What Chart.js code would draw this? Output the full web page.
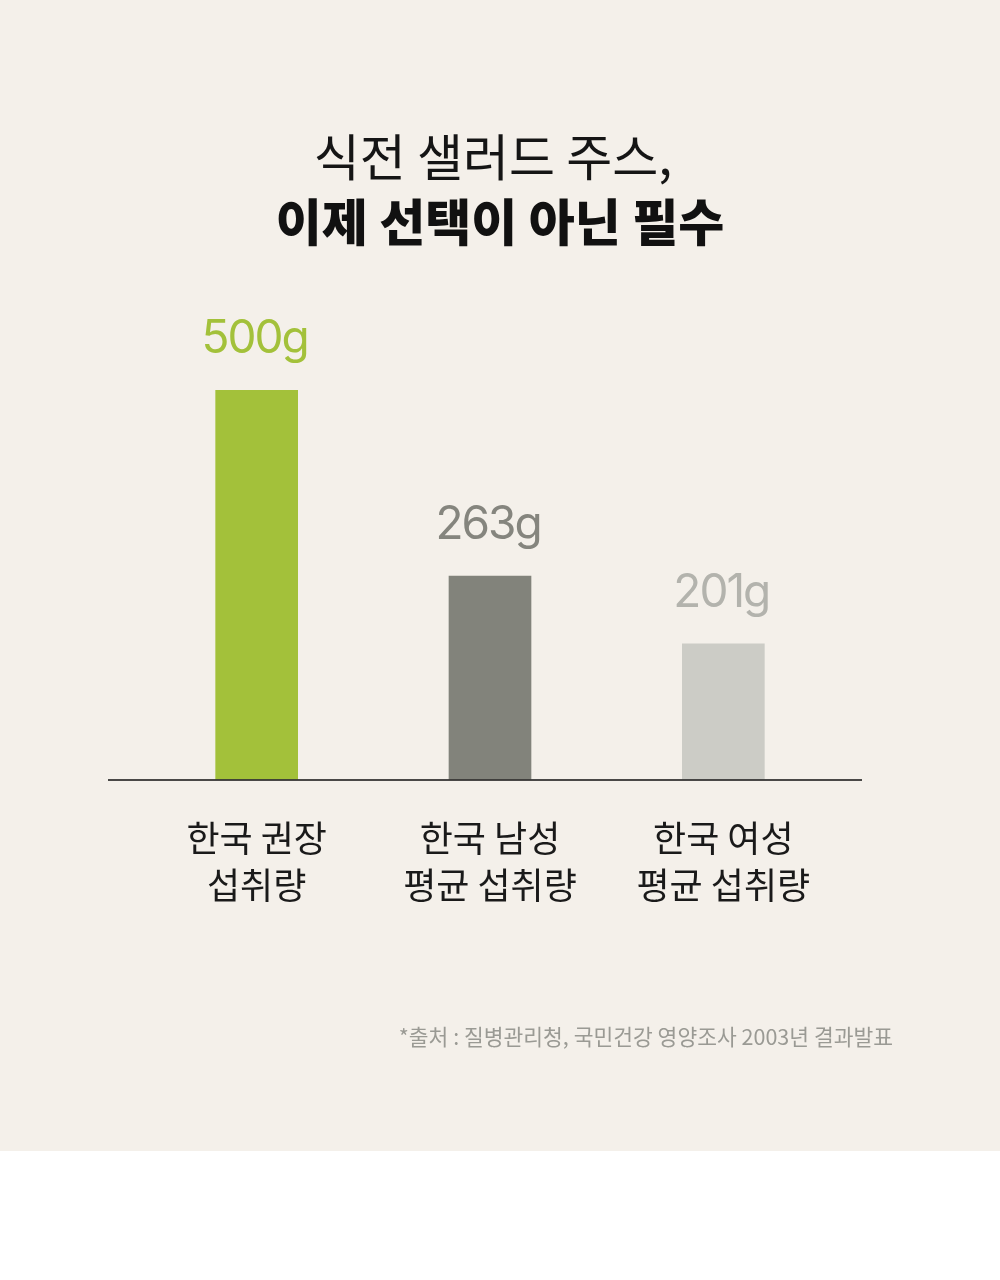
<!DOCTYPE html>
<html lang="ko">
<head>
<meta charset="utf-8">
<script src="https://cdn.jsdelivr.net/npm/chart.js@4"></script>
<style>
  html, body { margin: 0; padding: 0; background: #ffffff; }
  #wrap { width: 1000px; height: 1151px; background: #f4f0ea; position: relative; }
  #chart { display: block; }
</style>
</head>
<body>
<div id="wrap">
  <canvas id="chart" width="1000" height="1151"></canvas>
</div>
<script>
// categories (two-line tick labels)
const categories = [
    ['한국 권장', '섭취량'],
    ['한국 남성', '평균 섭취량'],
    ['한국 여성', '평균 섭취량']
];
// bar heights as drawn in the picture (the graphic is not to scale)
const barValues = [500, 261, 174];
// value labels printed above the bars
const valueLabels = ['500g', '263g', '201g'];
const barColors = ['#a3c13a', '#82837b', '#ccccc6'];
const labelColors = ['#a3c13a', '#85857e', '#b3b3ad'];

const titleText = '식전 샐러드 주스,';
const subtitleText = '이제 선택이 아닌 필수';
const sourceText = '*출처 : 질병관리청, 국민건강 영양조사 2003년 결과발표';

const FONT = 'Inter, "Noto Sans CJK KR", sans-serif';
const KFONT = '"Noto Sans CJK KR", sans-serif';

// value labels above bars
const valueLabelPlugin = {
    id: 'valueLabels',
    afterDatasetsDraw(chart) {
        const ctx = chart.ctx;
        const meta = chart.getDatasetMeta(0);
        ctx.save();
        ctx.font = '400 46px ' + FONT;
        ctx.letterSpacing = '-2px';
        ctx.textAlign = 'center';
        ctx.textBaseline = 'alphabetic';
        meta.data.forEach((bar, i) => {
            ctx.fillStyle = labelColors[i];
            ctx.fillText(valueLabels[i], bar.x - 2, bar.y - 37);
        });
        ctx.restore();
    }
};

// headline (centred on the page, not the plot), baseline and source note
const decorPlugin = {
    id: 'decor',
    afterDraw(chart) {
        const ctx = chart.ctx;
        const area = chart.chartArea;
        const cx = chart.width / 2;
        ctx.save();
        ctx.textAlign = 'center';
        ctx.textBaseline = 'middle';
        ctx.fillStyle = '#151515';
        ctx.font = '400 50px ' + KFONT;
        ctx.fillText(titleText, cx - 7, 157);
        ctx.fillStyle = '#111111';
        ctx.font = '800 50px ' + KFONT;
        ctx.fillText(subtitleText, cx, 222);

        ctx.strokeStyle = '#111111';
        ctx.lineWidth = 1.5;
        ctx.beginPath();
        ctx.moveTo(area.left - 32, area.bottom + 0.5);
        ctx.lineTo(area.right + 22, area.bottom + 0.5);
        ctx.stroke();

        ctx.font = '400 21.5px ' + KFONT;
        ctx.fillStyle = '#9a9a94';
        ctx.textAlign = 'right';
        ctx.fillText(sourceText, 893, 1037);
        ctx.restore();
    }
};

new Chart(document.getElementById('chart'), {
    type: 'bar',
    data: {
        labels: categories,
        datasets: [{
            data: barValues,
            backgroundColor: barColors,
            borderWidth: 0,
            barThickness: 82
        }]
    },
    options: {
        responsive: false,
        animation: false,
        layout: {
            padding: { left: 140, right: 160, top: 390, bottom: 214 }
        },
        plugins: {
            legend: { display: false },
            tooltip: { enabled: false }
        },
        scales: {
            x: {
                grid: { display: false },
                border: { display: false },
                ticks: {
                    color: '#1a1a1a',
                    padding: 28,
                    font: { family: KFONT, size: 36, lineHeight: 1.3 }
                }
            },
            y: {
                display: false,
                min: 0,
                max: 500
            }
        }
    },
    plugins: [valueLabelPlugin, decorPlugin]
});
</script>
</body>
</html>
